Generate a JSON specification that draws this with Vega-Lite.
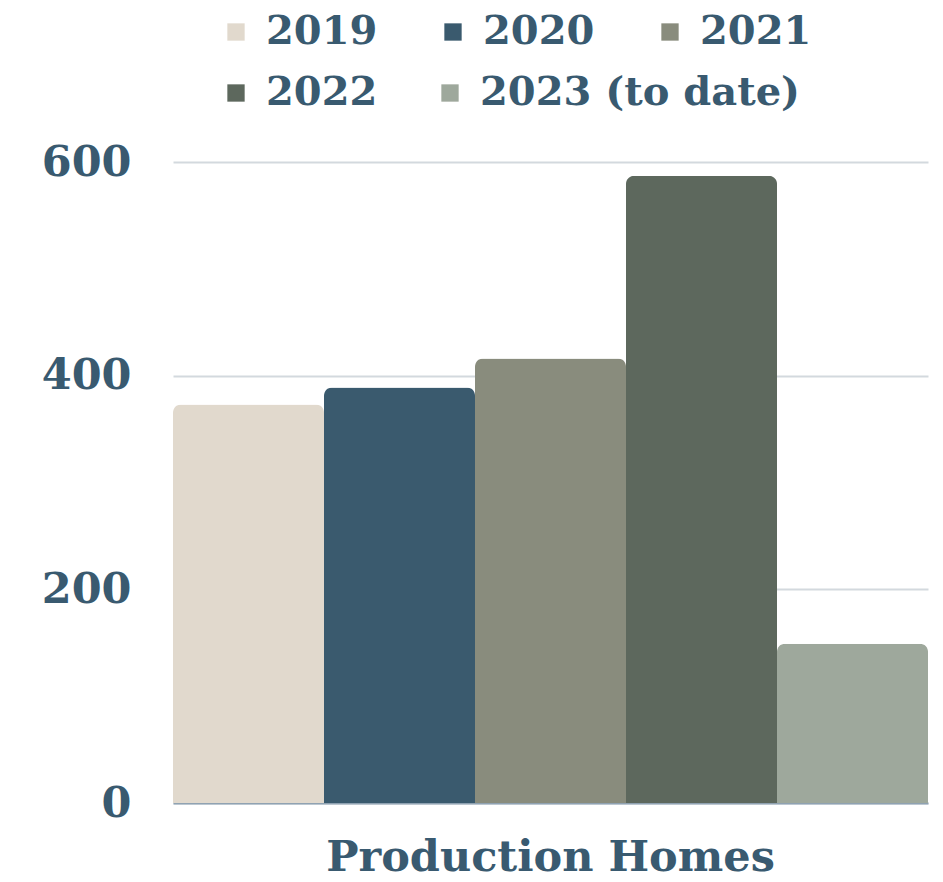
{
  "$schema": "https://vega.github.io/schema/vega-lite/v6.json",
  "autosize": {"type": "none"},
  "width": 755,
  "height": 641,
  "padding": {"left": 173, "top": 162, "right": 15, "bottom": 79},
  "background": "white",
  "config": {
    "view": {"stroke": null},
    "font": "DejaVu Serif",
    "legend": {
      "title": null,
      "orient": "none",
      "direction": "horizontal",
      "columnPadding": 50,
      "symbolType": "square",
      "symbolSize": 300,
      "symbolStrokeWidth": 0,
      "labelOffset": 10,
      "labelFont": "DejaVu Serif",
      "labelFontWeight": "bold",
      "labelFontSize": 40,
      "labelColor": "#395a70",
      "labelLimit": 0
    }
  },
  "data": {
    "values": [
      {"category": "Production Homes", "year": "2019", "value": 373},
      {"category": "Production Homes", "year": "2020", "value": 389},
      {"category": "Production Homes", "year": "2021", "value": 416},
      {"category": "Production Homes", "year": "2022", "value": 587},
      {"category": "Production Homes", "year": "2023 (to date)", "value": 149}
    ]
  },
  "encoding": {
    "x": {
      "field": "category",
      "type": "nominal",
      "scale": {"paddingInner": 0, "paddingOuter": 0},
      "axis": {
        "title": null,
        "labelAngle": 0,
        "labelLimit": 0,
        "labelFont": "DejaVu Serif",
        "labelFontWeight": "bold",
        "labelFontSize": 43,
        "labelColor": "#395a70",
        "labelPadding": 33,
        "ticks": false,
        "domainColor": "#8fa2b2",
        "domainWidth": 2
      }
    },
    "xOffset": {
      "field": "year",
      "type": "nominal",
      "scale": {
        "domain": ["2019", "2020", "2021", "2022", "2023 (to date)"],
        "paddingInner": 0,
        "paddingOuter": 0
      }
    },
    "y": {
      "field": "value",
      "type": "quantitative",
      "scale": {"domain": [0, 600], "nice": false},
      "axis": {
        "title": null,
        "values": [0, 200, 400, 600],
        "domain": false,
        "ticks": false,
        "labelFont": "DejaVu Serif",
        "labelFontWeight": "bold",
        "labelFontSize": 43,
        "labelColor": "#395a70",
        "labelPadding": 42,
        "gridColor": "#d3d9de",
        "gridWidth": 2
      }
    }
  },
  "layer": [
    {
      "transform": [{"filter": {"field": "year", "oneOf": ["2019", "2020", "2021"]}}],
      "mark": {"type": "bar", "cornerRadiusTopLeft": 8, "cornerRadiusTopRight": 8},
      "encoding": {
        "color": {
          "field": "year",
          "type": "nominal",
          "scale": {
            "domain": ["2019", "2020", "2021"],
            "range": ["#e1d9cd", "#3a5a6e", "#898c7d"]
          },
          "legend": {"legendX": 43, "legendY": -150, "columns": 3, "columnPadding": 55}
        }
      }
    },
    {
      "transform": [{"filter": {"field": "year", "oneOf": ["2022", "2023 (to date)"]}}],
      "mark": {"type": "bar", "cornerRadiusTopLeft": 8, "cornerRadiusTopRight": 8},
      "encoding": {
        "color": {
          "field": "year",
          "type": "nominal",
          "scale": {
            "domain": ["2022", "2023 (to date)"],
            "range": ["#5d685d", "#9ea89c"]
          },
          "legend": {"legendX": 43, "legendY": -89, "columns": 2, "columnPadding": 52}
        }
      }
    }
  ],
  "resolve": {"scale": {"color": "independent"}, "legend": {"color": "independent"}}
}
